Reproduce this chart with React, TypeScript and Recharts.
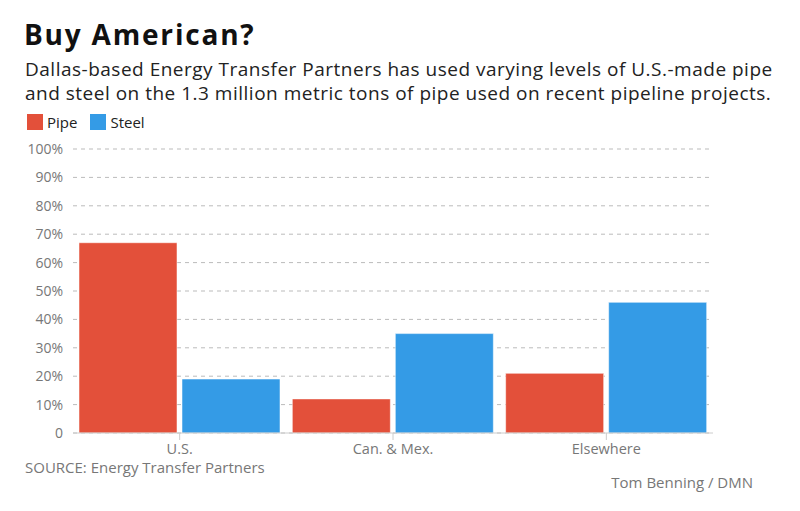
import { BarChart, Bar, XAxis, YAxis, CartesianGrid } from "recharts"

const categories = ["U.S.", "Can. & Mex.", "Elsewhere"]
const pipe = [67, 12, 21]
const steel = [19, 35, 46]
const yTicks = [0, 10, 20, 30, 40, 50, 60, 70, 80, 90, 100]

const data = categories.map((name, i) => ({ name, pipe: pipe[i], steel: steel[i] }))

const RED = "#e3503a"
const BLUE = "#349be6"
const FONT = "'Open Sans', Lato, sans-serif"

export default function App() {
  return (
    <div style={{ position: "absolute", left: 0, top: 0, width: 800, height: 511, background: "#fff", fontFamily: FONT }}>
      <div style={{ position: "absolute", left: 24, top: 15, fontSize: 28, fontWeight: 700, letterSpacing: 1.8, color: "#111" }}>
        Buy American?
      </div>
      <div style={{ position: "absolute", left: 25, top: 57, width: 780, fontSize: 19, lineHeight: "24px", letterSpacing: 0.5, color: "#222", whiteSpace: "nowrap" }}>
        Dallas-based Energy Transfer Partners has used varying levels of U.S.-made pipe
        <br />
        and steel on the 1.3 million metric tons of pipe used on recent pipeline projects.
      </div>
      <div style={{ position: "absolute", left: 27, top: 112, display: "flex", alignItems: "center", fontSize: 15, color: "#222" }}>
        <span style={{ width: 16, height: 16, background: RED, marginRight: 4 }} />
        <span style={{ marginRight: 13 }}>Pipe</span>
        <span style={{ width: 16, height: 16, background: BLUE, marginRight: 4 }} />
        <span>Steel</span>
      </div>
      <div style={{ position: "absolute", left: 0, top: 0 }}>
        <BarChart width={800} height={511} data={data} margin={{ top: 149, right: 87, bottom: 48, left: 13 }} barCategoryGap={6} barGap={5}>
          <CartesianGrid vertical={false} stroke="#bbb" strokeDasharray="4 4" />
          <XAxis
            dataKey="name"
            axisLine={{ stroke: "#ccc" }}
            tickLine={{ stroke: "#ccc" }}
            tickSize={7}
            tickMargin={4}
            tick={{ fill: "#777", fontSize: 14.5, fontFamily: FONT }}
          />
          <YAxis
            width={60}
            domain={[0, 100]}
            ticks={yTicks}
            interval={0}
            axisLine={false}
            tickLine={false}
            tickMargin={4}
            tickFormatter={(v: number) => (v === 0 ? "0" : v + "%")}
            tick={{ fill: "#777", fontSize: 14, fontFamily: FONT }}
          />
          <Bar dataKey="pipe" fill={RED} stroke="#fff" strokeOpacity={0.5} isAnimationActive={false} />
          <Bar dataKey="steel" fill={BLUE} stroke="#fff" strokeOpacity={0.5} isAnimationActive={false} />
        </BarChart>
      </div>
      <div style={{ position: "absolute", left: 25, top: 457, fontSize: 15, color: "#777" }}>
        SOURCE: Energy Transfer Partners
      </div>
      <div style={{ position: "absolute", right: 47, top: 472, fontSize: 15, color: "#777" }}>
        Tom Benning / DMN
      </div>
    </div>
  )
}
